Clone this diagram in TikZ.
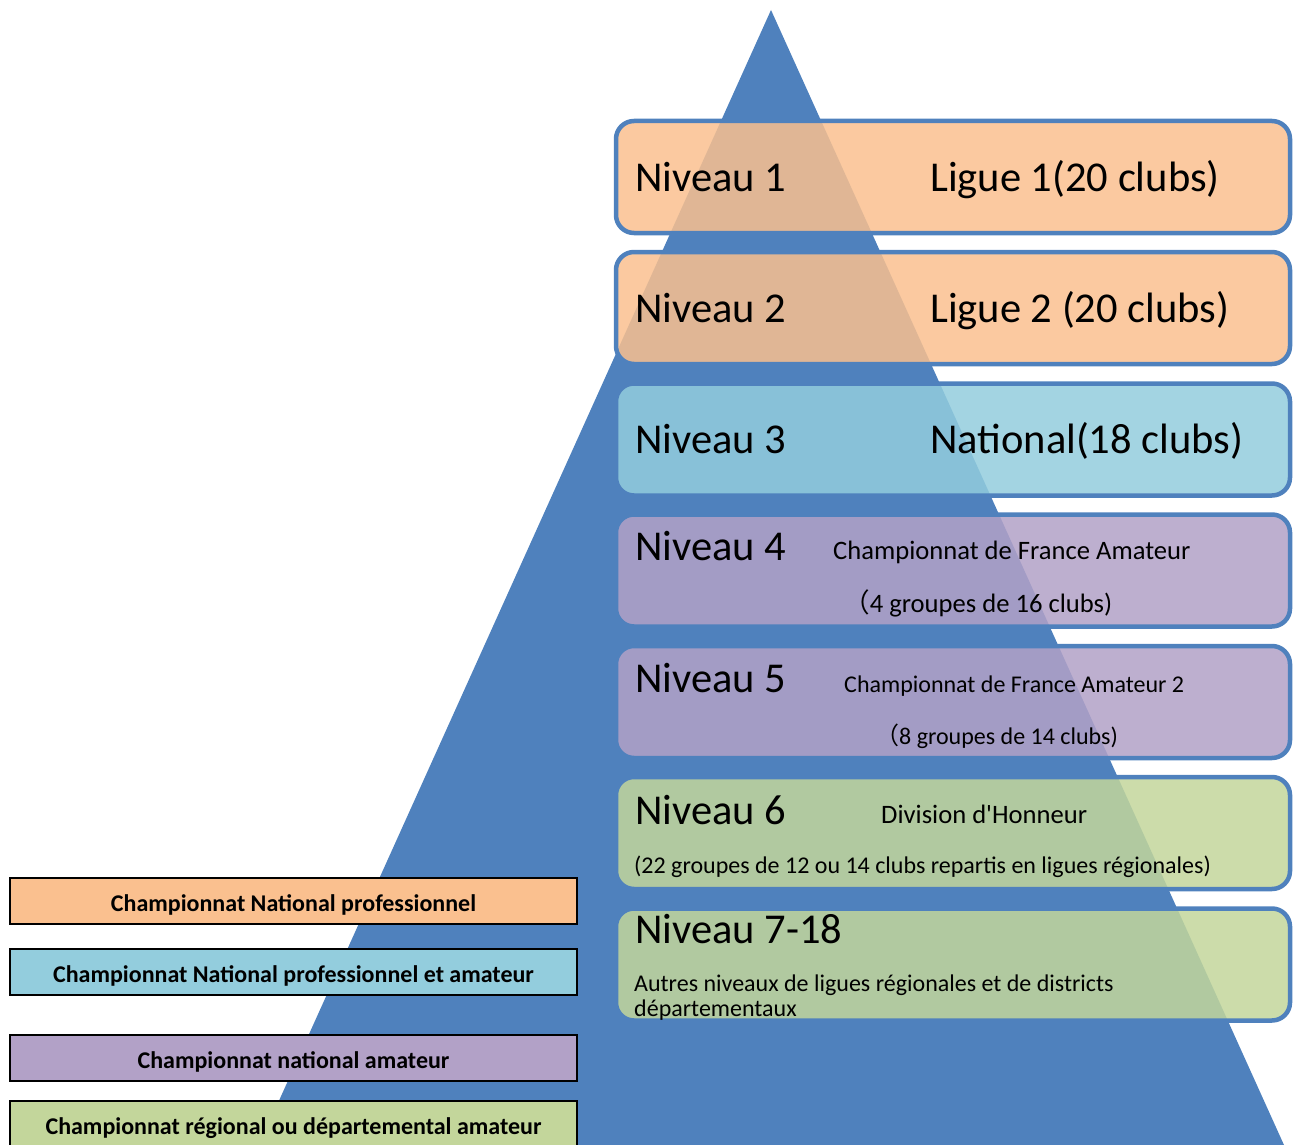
\documentclass[tikz,border=0pt]{standalone}
\usepackage{fontspec}
\setmainfont{Carlito}[Ligatures=TeXOff]
\newfontfamily\cjkfont{Noto Sans CJK SC}
\usepackage{tikz}
\usetikzlibrary{positioning}

\definecolor{pyrblue}{HTML}{4F81BD}
\definecolor{proorange}{HTML}{FAC08F}
\definecolor{natblue}{HTML}{93CDDD}
\definecolor{amapurple}{HTML}{B2A1C7}
\definecolor{regreen}{HTML}{C3D69B}

\begin{document}
\begin{tikzpicture}[x=1pt,y=-1pt,
        niveau/.style={draw=pyrblue,line width=4.5pt,rounded corners=18pt,fill opacity=0.85,
            minimum width=674pt,minimum height=112pt,inner sep=0pt},
        legende/.style={draw=black,line width=1.8pt,minimum width=567pt,minimum height=46pt,
            inner sep=0pt,text height=22pt,text depth=2pt,font=\fontsize{24}{28}\selectfont\bfseries},
        big/.style={anchor=base west,inner sep=0pt,font=\fontsize{42.5}{50}\selectfont},
        small/.style={anchor=base west,inner sep=0pt,font=\fontsize{24}{28}\selectfont},
        medium/.style={anchor=base west,inner sep=0pt,font=\fontsize{26.6}{31}\selectfont}]
        \useasboundingbox (0,0) rectangle (1296,1145);

        %%%% Pyramid ====================================
        \coordinate (apex) at (771,10);
        \coordinate (baseL) at (259,1145);
        \coordinate (baseR) at (1284,1145);
        \fill[pyrblue] (apex) -- (baseL) -- (baseR) -- cycle;

        %%%% Levels =====================================
        % Boxes
        \node[niveau,fill=proorange] (b1) at (953,177) {};
        \node[niveau,fill=proorange] (b2) at (953,308) {};
        \node[niveau,fill=natblue] (b3) at (953,439.5) {};
        \node[niveau,fill=amapurple] (b4) at (953,570.5) {};
        \node[niveau,fill=amapurple] (b5) at (953,702) {};
        \node[niveau,fill=regreen] (b6) at (953,833) {};
        \node[niveau,fill=regreen] (b7) at (953,964.5) {};

        % Level names
        \node[big] (n1) at (635,191) {Niveau 1};
        \node[big] (n2) at (635,322) {Niveau 2};
        \node[big] (n3) at (635,453) {Niveau 3};
        \node[big] (n4) at (635,560) {Niveau 4};
        \node[big] (n5) at (635,692) {Niveau 5};
        \node[big] (n6) at (635,824) {Niveau 6};
        \node[big] (n7) at (635,943) {Niveau 7-18};

        % Leagues
        \node[big] (l1) at (930,191) {Ligue 1(20 clubs)};
        \node[big] (l2) at (930,322) {Ligue 2 (20 clubs)};
        \node[big] (l3) at (930,453) {National(18 clubs)};
        \node[medium] (l4) at (833,559) {Championnat de France Amateur};
        \node[medium] (l4b) at (843,612) {{\cjkfont （}4 groupes de 16 clubs)};
        \node[small] (l5) at (844,692) {Championnat de France Amateur 2};
        \node[small] (l5b) at (875,744) {{\cjkfont （}8 groupes de 14 clubs)};
        \node[medium] (l6) at (881,823) {Division d'Honneur};
        \node[small] (l6b) at (634,873) {(22 groupes de 12 ou 14 clubs repartis en ligues régionales)};
        \node[small] (l7) at (634,991) {Autres niveaux de ligues régionales et de districts};
        \node[small] (l7b) at (634,1016) {départementaux};

        %%%% Legend =====================================
        \node[legende,fill=proorange] (k1) at (293.5,901) {Championnat National professionnel};
        \node[legende,fill=natblue] (k2) at (293.5,972) {Championnat National professionnel et amateur};
        \node[legende,fill=amapurple] (k3) at (293.5,1058) {Championnat national amateur};
        \node[legende,fill=regreen] (k4) at (293.5,1124) {Championnat régional ou départemental amateur};
    \end{tikzpicture}
\end{document}
